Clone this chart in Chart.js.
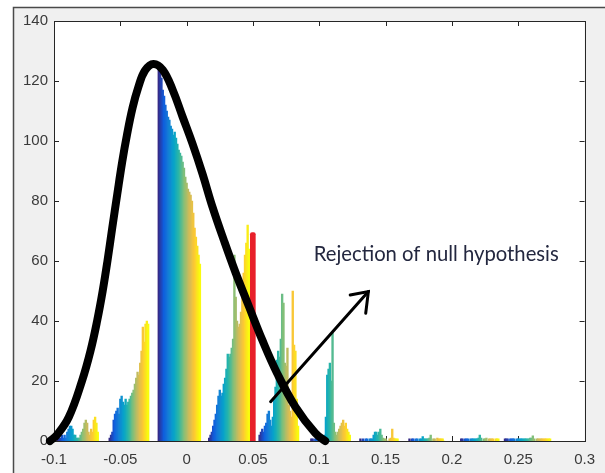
<!DOCTYPE html>
<html><head><meta charset="utf-8">
<script src="https://cdn.jsdelivr.net/npm/chart.js@4"></script>
<style>html,body{margin:0;padding:0;background:#fff;}canvas{display:block;}</style>
</head><body>
<canvas id="c" width="605" height="473"></canvas>
<script>
// ---- data ----
const binWidth = 0.001;
const startA = -0.097;
const countsA = [1,1,1,2,1,2,1,3,4,5,5,4,2,2,1,1,1,2,3,4,6,7,6,3,2,4,3,7,8,6,3];
const startB = -0.058;
const countsB = [1,2,3,7,9,10,11,9,14,15,13,12,14,12,13,14,15,16,17,19,21,23,22,26,30,38,33,39,40,39];
const startC = -0.021;
const countsC = [125,123,121,117,115,112,110,108,107,105,104,102,103,101,99,97,96,95,93,91,88,86,84,83,82,80,76,71,68,65,62,59];
const startD = 0.017;
const countsD = [1,2,3,5,7,9,12,15,17,15,16,19,21,24,29,28,29,31,34,62,48,40,38,39,43,52,56,62,66,72,64];
const startE = 0.055;
const countsE = [2,3,4,3,5,6,9,10,7,5,8,14,18,27,30,28,34,49,46,26,25,31,12,10,8,50,32,30,14,5];
const startF = 0.094;
const countsF = [0.7,0.7,0,0.7,0.7,0.7,0.7,0,1,1,2,8,22,24,26,20,36,6,3,2,3,4,5,6,7,5,6,4,3,2];
const startG = 0.131;
const countsG = [0.7,0,0.7,0,0.7,0.7,0,0.7,0.7,0.7,2,3,3,2,3,4,2,1,0.7,0.7,0,0,0.7,1,4,1,0.7,0.7,0.7];
const startH = 0.168;
const countsH = [0.7,0,0.7,0.7,0,0.7,0.7,0,0.7,0.7,1.5,0.7,0.7,0.7,0.7,1,2,0,0.7,0.7,0,1,0.7,0.7,0.7,0.7,0];
const startI = 0.207;
const countsI = [0.7,0.7,0,0.7,0.7,0.7,0,0.7,0.7,0.7,0.7,0.7,0.7,1,2,1,0,0.7,0.7,1,0,0.7,0.7,0.7,0.7,0,0.7,0.7,0.7];
const startJ = 0.240;
const countsJ = [0.7,0.7,0.7,0,0.7,0.7,0.7,0.7,0,0.7,0.7,0.7,0.7,0.7,0.7,0.7,0.7,0.7,0.7,1,1,1.7,0.7,0,0.7,0.7,0.7,0.7,0.7,0.7,0.7,0.7,0.7,0.7,0.7];

const redX = [0.0499];
const redY = [69.5];

const curveX = [-0.103,-0.0978,-0.0888,-0.0789,-0.0725,-0.0675,-0.0633,-0.0597,-0.0561,-0.0524,-0.0486,-0.045,-0.0408,-0.0364,-0.0314,-0.025,-0.018,-0.0105,-0.003,0.0045,0.012,0.0195,0.028,0.037,0.047,0.057,0.0682,0.082,0.097,0.1045];
const curveY = [0,2,8,20,30,40,50,60,71,82,93,102,111,118,123.5,125.7,123.7,117,108,99,89,78,67,56,44.8,33.7,22.6,11.4,2.6,0];

const arrowX = [0.0633, 0.137];
const arrowY = [13.1, 49.8];
const headX = [0.1233, 0.137, 0.135];
const headY = [48.7, 49.8, 42.6];

const noteText = 'Rejection of null hypothesis';
const noteX = 0.0958;
const noteY = 60.1;

const xTicks = [-0.1,-0.05,0,0.05,0.1,0.15,0.2,0.25,0.3];
const yTicks = [0,20,40,60,80,100,120,140];

// ---- styling helpers ----
const parula = [[0.2081,0.1663,0.5292],[0.0592,0.3599,0.8683],[0.0780,0.5041,0.8384],[0.0232,0.6407,0.7925],[0.1801,0.7177,0.6424],[0.5300,0.7491,0.4661],[0.8185,0.7327,0.3498],[0.9955,0.7861,0.1967],[0.9763,0.9831,0.0538]];
function parulaColor(t){
  const p = Math.max(0,Math.min(1,t))*(parula.length-1);
  const i = Math.min(parula.length-2, Math.floor(p)); const f = p-i;
  const c = parula[i].map((v,k)=>Math.round(255*(v+(parula[i+1][k]-v)*f)));
  return 'rgb('+c.join(',')+')';
}
const clusters = [[startA,countsA],[startB,countsB],[startC,countsC],[startD,countsD],[startE,countsE],[startF,countsF],[startG,countsG],[startH,countsH],[startI,countsI],[startJ,countsJ]];
const histPoints = [], histColors = [];
clusters.forEach(([s,counts])=>{
  counts.forEach((v,i)=>{
    histPoints.push({x: s + i*binWidth, y: v});
    histColors.push(parulaColor(i/(counts.length-1)));
  });
});
const zip = (xs,ys)=>xs.map((x,i)=>({x, y: ys[i]}));

const framePlugin = {
  id:'frame',
  beforeDraw(chart){
    const ctx = chart.ctx, a = chart.chartArea;
    ctx.save();
    ctx.fillStyle = '#ffffff'; ctx.fillRect(0,0,chart.width,chart.height);
    ctx.fillStyle = '#f0f0f0'; ctx.fillRect(13,7,chart.width-13,chart.height-7);
    ctx.strokeStyle = '#4a4a4a'; ctx.lineWidth = 1.5;
    ctx.beginPath(); ctx.moveTo(13.5,chart.height); ctx.lineTo(13.5,7.5); ctx.lineTo(chart.width,7.5); ctx.stroke();
    ctx.fillStyle = '#ffffff'; ctx.fillRect(a.left,a.top,a.right-a.left,a.bottom-a.top);
    ctx.restore();
  },
  beforeDatasetsDraw(chart){
    const ctx = chart.ctx, a = chart.chartArea;
    const xs = chart.scales.x, ys = chart.scales.y;
    ctx.save();
    ctx.strokeStyle = '#262626'; ctx.lineWidth = 1;
    ctx.strokeRect(Math.round(a.left)+0.5, Math.round(a.top)+0.5, Math.round(a.right-a.left), Math.round(a.bottom-a.top));
    ctx.beginPath();
    xTicks.forEach(v=>{
      const px = Math.round(xs.getPixelForValue(v))+0.5;
      ctx.moveTo(px,a.top); ctx.lineTo(px,a.top+5);
      ctx.moveTo(px,a.bottom); ctx.lineTo(px,a.bottom-5);
    });
    yTicks.forEach(v=>{
      const py = Math.round(ys.getPixelForValue(v))+0.5;
      ctx.moveTo(a.left,py); ctx.lineTo(a.left+5,py);
      ctx.moveTo(a.right,py); ctx.lineTo(a.right-5,py);
    });
    ctx.stroke();
    ctx.restore();
  },
  afterDatasetsDraw(chart){
    const ctx = chart.ctx;
    const xs = chart.scales.x, ys = chart.scales.y;
    ctx.save();
    ctx.font = '20px Lato';
    const w20 = ctx.measureText(noteText).width;
    const size = 20*245/w20;
    ctx.font = size.toFixed(2)+'px Lato';
    ctx.fillStyle = '#23273f';
    ctx.textBaseline = 'alphabetic'; ctx.textAlign = 'left';
    ctx.fillText(noteText, xs.getPixelForValue(noteX), ys.getPixelForValue(noteY));
    ctx.restore();
  }
};

new Chart(document.getElementById('c'), {
  type: 'bar',
  data: {
    datasets: [
      {type:'bar', data: histPoints, backgroundColor: histColors, borderWidth: 0, barThickness: 1.7, grouped: false, order: 5},
      {type:'bar', data: zip(redX,redY), backgroundColor: '#e8202a', borderWidth: 0, barThickness: 5, grouped: false, borderRadius: {topLeft:2, topRight:2}, borderSkipped:'bottom', order: 4},
      {type:'line', data: zip(curveX,curveY), borderColor:'#000', borderWidth: 8, pointRadius: 0, tension: 0.4, borderCapStyle:'round', borderJoinStyle:'round', fill:false, clip: false, order: 3},
      {type:'line', data: zip(arrowX,arrowY), borderColor:'#000', borderWidth: 3, pointRadius: 0, tension: 0, fill:false, borderCapStyle:'round', order: 2},
      {type:'line', data: zip(headX,headY), borderColor:'#000', borderWidth: 3, pointRadius: 0, tension: 0, fill:false, borderCapStyle:'round', borderJoinStyle:'miter', order: 1}
    ]
  },
  options: {
    responsive: false, devicePixelRatio: 1, animation: false,
    layout: {padding: {left: 0, top: 21, right: 19, bottom: 0}},
    plugins: {legend: {display: false}, tooltip: {enabled: false}},
    scales: {
      x: {
        type: 'linear', min: -0.1, max: 0.3, offset: false,
        grid: {display: false, drawTicks: false, offset: false}, border: {display: false},
        afterBuildTicks: s => { s.ticks = xTicks.map(v=>({value:v})); },
        afterFit: s => { s.height = 32; },
        ticks: {padding: 10, color: '#3a3a3a', font: {family: 'Liberation Sans', size: 15}, maxRotation: 0, autoSkip: false,
          callback: v => String(+Number(v).toFixed(2))}
      },
      y: {
        type: 'linear', min: 0, max: 140,
        grid: {display: false, drawTicks: false}, border: {display: false},
        afterBuildTicks: s => { s.ticks = yTicks.map(v=>({value:v})); },
        afterFit: s => { s.width = 54; },
        ticks: {padding: 6, color: '#3a3a3a', font: {family: 'Liberation Sans', size: 15}, autoSkip: false}
      }
    }
  },
  plugins: [framePlugin]
});
</script>
</body></html>
